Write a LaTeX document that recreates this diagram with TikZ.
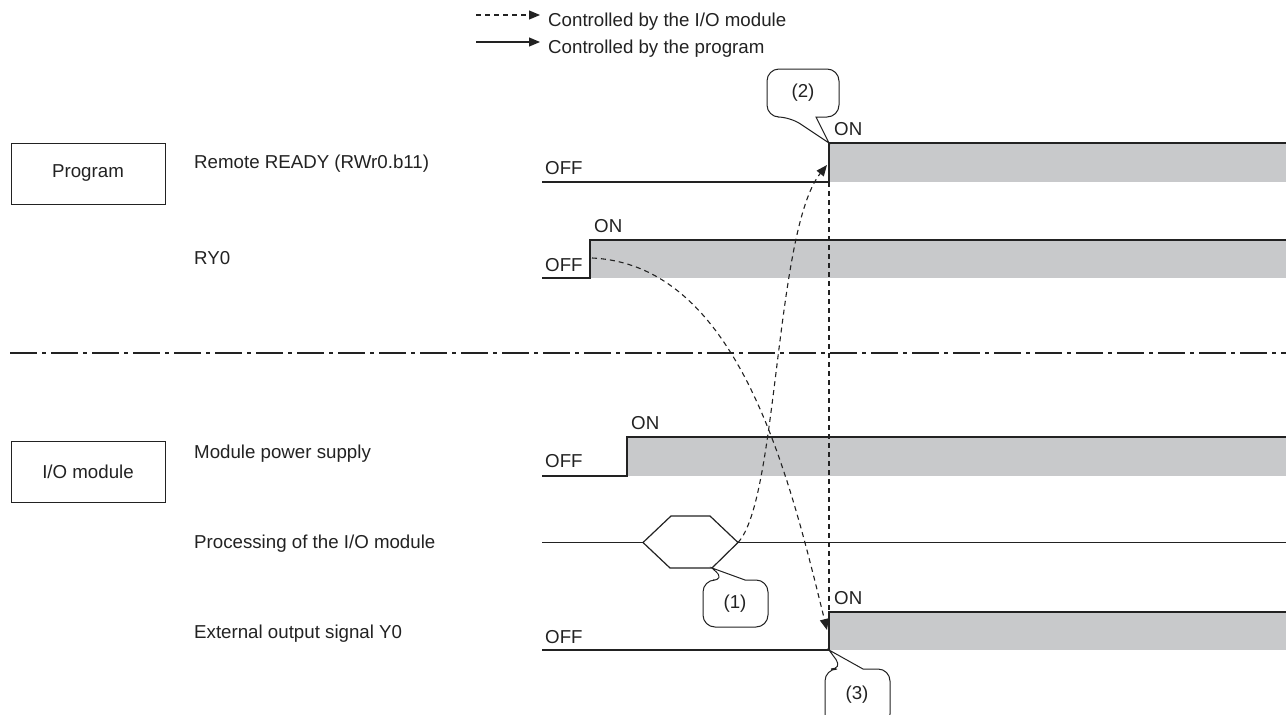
\documentclass[tikz,border=0pt]{standalone}
\usepackage{fontspec}
\setmainfont{Liberation Sans}
\usetikzlibrary{arrows.meta}
\definecolor{barfill}{HTML}{C8C9CB}
\definecolor{ink}{HTML}{222222}
\tikzset{
  txt/.style={font=\fontsize{18.7}{20}\selectfont, inner sep=0pt, text=ink},
  lbl/.style={txt, anchor=base west},
  boxlbl/.style={draw=ink, line width=1pt, minimum width=154pt, minimum height=61pt, txt},
  sig/.style={draw=ink, line width=1.3pt},
  bar/.style={fill=barfill},
  ctrl/.style={draw=ink, line width=1.1pt, dash pattern=on 5pt off 4pt},
  tip/.style={-{Triangle[length=11pt,width=9pt]}},
  callout/.style={draw=ink, line width=1pt, fill=white},
  sep/.style={draw=ink, line width=1.7pt, dash pattern=on 27pt off 5pt on 4pt off 5pt}
}
\begin{document}
\begin{tikzpicture}[x=1pt,y=-1pt]
\useasboundingbox (0,0) rectangle (1286,715);
\clip (0,0) rectangle (1286,715);

% legend
\coordinate (lg1a) at (476,15); \coordinate (lg1b) at (540,15);
\coordinate (lg2a) at (476,42); \coordinate (lg2b) at (540,42);
\draw[ctrl,tip] (lg1a) -- (lg1b);
\draw[sig,line width=1.1pt,tip] (lg2a) -- (lg2b);
\node[lbl] (lgt1) at (548,26) {Controlled by the I/O module};
\node[lbl] (lgt2) at (548,53) {Controlled by the program};

% boxes
\node[boxlbl] (prog) at (88,173.5) {Program};
\node[boxlbl] (iomod) at (88,471.5) {I/O module};

% labels
\node[lbl] (l1) at (194,168) {Remote READY (RWr0.b11)};
\node[lbl] (l2) at (194,264) {RY0};
\node[lbl] (l3) at (194,458) {Module power supply};
\node[lbl] (l4) at (194,548) {Processing of the I/O module};
\node[lbl] (l5) at (194,638) {External output signal Y0};

% separator
\coordinate (sa) at (10,353); \coordinate (sb) at (1286,353);
\draw[sep] (sa) -- (sb);

% Remote READY
\fill[bar] (829,143) rectangle (1286,182);
\coordinate (r0) at (542,182); \coordinate (r1) at (829,182);
\coordinate (r2) at (829,143); \coordinate (r3) at (1286,143);
\draw[sig] (r0) -- (r1) -- (r2) -- (r3);
\node[lbl] (roff) at (545,174) {OFF};
\node[lbl] (ron) at (834,135) {ON};

% RY0
\fill[bar] (590,240) rectangle (1286,278);
\coordinate (y0) at (542,278); \coordinate (y1) at (590,278);
\coordinate (y2) at (590,240); \coordinate (y3) at (1286,240);
\draw[sig] (y0) -- (y1) -- (y2) -- (y3);
\node[lbl] (yoff) at (545,271) {OFF};
\node[lbl] (yon) at (594,232) {ON};

% Module power supply
\fill[bar] (627,437) rectangle (1286,476);
\coordinate (m0) at (542,476); \coordinate (m1) at (627,476);
\coordinate (m2) at (627,437); \coordinate (m3) at (1286,437);
\draw[sig] (m0) -- (m1) -- (m2) -- (m3);
\node[lbl] (moff) at (545,467) {OFF};
\node[lbl] (mon) at (631,429) {ON};

% Processing
\coordinate (p0) at (542,542.5); \coordinate (p1) at (1286,542.5);
\draw[sig,line width=1.2pt] (p0) -- (p1);
\coordinate (hL) at (643,542.5); \coordinate (hTL) at (671,516);
\coordinate (hTR) at (710,516); \coordinate (hR) at (738,542.5);
\coordinate (hBR) at (712,568); \coordinate (hBL) at (670,568);
\filldraw[draw=ink, fill=white, line width=1.2pt] (hL) -- (hTL) -- (hTR) -- (hR) -- (hBR) -- (hBL) -- cycle;

% External output
\fill[bar] (829,612) rectangle (1286,650);
\coordinate (e0) at (542,650); \coordinate (e1) at (829,650);
\coordinate (e2) at (829,612); \coordinate (e3) at (1286,612);
\draw[sig] (e0) -- (e1) -- (e2) -- (e3);
\node[lbl] (eoff) at (545,643) {OFF};
\node[lbl] (eon) at (834,604) {ON};

% control arrows
\coordinate (c1s) at (592,258); \coordinate (c1e) at (827,630);
\draw[ctrl,tip] (c1s) .. controls (740,265) and (790,480) .. (c1e);
\coordinate (c2e) at (827,165);
\draw[ctrl,tip] (hR) .. controls (778,500) and (775,230) .. (c2e);
\coordinate (vd1) at (829,182); \coordinate (vd2) at (829,612);
\draw[ctrl] (vd1) -- (vd2);

% callouts
\draw[callout,rounded corners=12pt] (816,117) -- (839,117) -- (839,69) -- (767,69) -- (767,117) -- (790,117) [sharp corners] -- (r2) -- cycle;
\node[txt] (c2) at (803,93) {(2)};
\draw[callout,rounded corners=12pt] (745,580) -- (768,580) -- (768,627) -- (703,627) -- (703,580) -- (725,580) [sharp corners] -- (hBR) -- cycle;
\node[txt] (c1) at (735,604) {(1)};
\draw[callout,rounded corners=12pt] (863,669) -- (890,669) -- (890,726) -- (825,726) -- (825,669) -- (843,669) [sharp corners] -- (e1) -- cycle;
\node[txt] (c3) at (857,695) {(3)};
\end{tikzpicture}
\end{document}
